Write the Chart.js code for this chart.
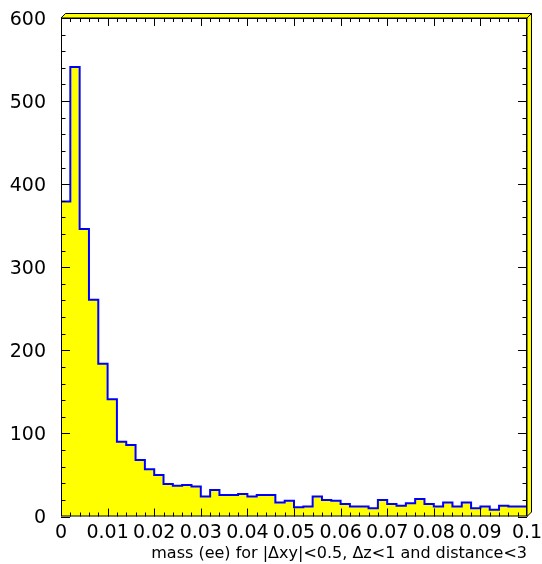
<!DOCTYPE html>
<html>
<head>
<meta charset="utf-8">
<script src="https://cdn.jsdelivr.net/npm/chart.js@4.4.1/dist/chart.umd.min.js"></script>
<style>
html,body{margin:0;padding:0;background:#fff;}
#wrap{width:542px;height:564px;position:relative;}
</style>
</head>
<body>
<div id="wrap"><canvas id="c" width="542" height="564"></canvas></div>
<script>
// Histogram: 50 bins from 0 to 0.1
const xMin = 0;
const xMax = 0.1;
const nBins = 50;
const counts = [
  379, 541, 346, 261, 184, 141, 90, 86, 68, 57,
  50, 39, 37, 38, 36, 24, 32, 26, 26, 27,
  24, 26, 26, 17, 19, 11, 12, 24, 20, 19,
  15, 12, 12, 10, 20, 15, 13, 16, 21, 15,
  12, 17, 12, 17, 10, 12, 8, 13, 12, 12
];
const xTickLabels = ['0','0.01','0.02','0.03','0.04','0.05','0.06','0.07','0.08','0.09','0.1'];
const yTickLabels = ['0','100','200','300','400','500','600'];
const xTitle = 'mass (ee) for |\u0394xy|<0.5, \u0394z<1 and distance<3';

const binW = (xMax - xMin) / nBins;
const pts = [];
counts.forEach((v, i) => pts.push({x: xMin + i * binW, y: v}));
pts.push({x: xMax, y: counts[counts.length - 1]});

const FONT = '"DejaVu Sans", Verdana, sans-serif';

const framePlugin = {
  id: 'frame',
  afterDatasetsDraw(chart) {
    const ctx = chart.ctx;
    const a = chart.chartArea;
    const xs = chart.scales.x, ys = chart.scales.y;
    ctx.save();
    ctx.strokeStyle = '#000';
    ctx.lineWidth = 1;
    // frame
    ctx.beginPath();
    ctx.rect(a.left + 0.5, a.top + 0.5, a.right - a.left - 1, a.bottom - a.top - 1);
    ctx.stroke();
    // inward ticks
    const drawX = (v, len) => {
      const p = Math.round(xs.getPixelForValue(v)) + 0.5;
      ctx.beginPath();
      ctx.moveTo(p, a.bottom); ctx.lineTo(p, a.bottom - len);
      ctx.moveTo(p, a.top); ctx.lineTo(p, a.top + len);
      ctx.stroke();
    };
    const drawY = (v, len) => {
      const p = Math.round(ys.getPixelForValue(v)) + 0.5;
      ctx.beginPath();
      ctx.moveTo(a.left, p); ctx.lineTo(a.left + len, p);
      ctx.moveTo(a.right, p); ctx.lineTo(a.right - len, p);
      ctx.stroke();
    };
    const xt = xs.ticks.map(t => t.value);
    for (let i = 0; i < xt.length; i++) {
      drawX(xt[i], 8);
      if (i < xt.length - 1) {
        const d = (xt[i + 1] - xt[i]) / 5;
        for (let k = 1; k < 5; k++) drawX(xt[i] + k * d, 4);
      }
    }
    const yt = ys.ticks.map(t => t.value);
    for (let i = 0; i < yt.length; i++) {
      drawY(yt[i], 9);
      if (i < yt.length - 1) {
        const d = (yt[i + 1] - yt[i]) / 5;
        for (let k = 1; k < 5; k++) drawY(yt[i] + k * d, 4.5);
      }
    }
    // 3D yellow border on top and right
    const t = 4.5;
    ctx.fillStyle = '#ffff00';
    ctx.beginPath();
    ctx.moveTo(a.left, a.top);
    ctx.lineTo(a.left + t, a.top - t);
    ctx.lineTo(a.right + t, a.top - t);
    ctx.lineTo(a.right, a.top);
    ctx.closePath();
    ctx.fill(); ctx.stroke();
    ctx.beginPath();
    ctx.moveTo(a.right, a.top);
    ctx.lineTo(a.right + t, a.top - t);
    ctx.lineTo(a.right + t, a.bottom - t);
    ctx.lineTo(a.right, a.bottom);
    ctx.closePath();
    ctx.fill(); ctx.stroke();
    ctx.restore();
  }
};

new Chart(document.getElementById('c'), {
  type: 'line',
  data: {
    datasets: [{
      data: pts,
      stepped: 'before',
      borderColor: '#0000ff',
      borderWidth: 2,
      backgroundColor: '#ffff00',
      fill: 'origin',
      pointRadius: 0,
      tension: 0
    }]
  },
  options: {
    responsive: false,
    animation: false,
    devicePixelRatio: 1,
    layout: {padding: {top: 18, right: 15, left: 0, bottom: 0}},
    plugins: {legend: {display: false}, tooltip: {enabled: false}},
    scales: {
      x: {
        type: 'linear', min: xMin, max: xMax,
        afterFit(s) { s.height = 47.5; s.paddingLeft = 0; s.paddingRight = 0; },
        grid: {display: false, drawTicks: false},
        border: {display: false},
        ticks: {
          stepSize: 0.01, maxRotation: 0, autoSkip: false, padding: 5,
          color: '#000', font: {family: FONT, size: 19},
          callback: (v, i) => xTickLabels[i]
        },
        title: {
          display: true, text: xTitle, align: 'end', color: '#000',
          font: {family: FONT, size: 16}, padding: {top: 0, bottom: 1}
        }
      },
      y: {
        min: 0, max: 600,
        afterFit(s) { s.width = 61; s.paddingTop = 0; s.paddingBottom = 0; },
        grid: {display: false, drawTicks: false},
        border: {display: false},
        ticks: {
          stepSize: 100, padding: 15, color: '#000', labelOffset: 2,
          font: {family: FONT, size: 19},
          callback: (v, i) => yTickLabels[i]
        }
      }
    }
  },
  plugins: [framePlugin]
});
</script>
</body>
</html>
